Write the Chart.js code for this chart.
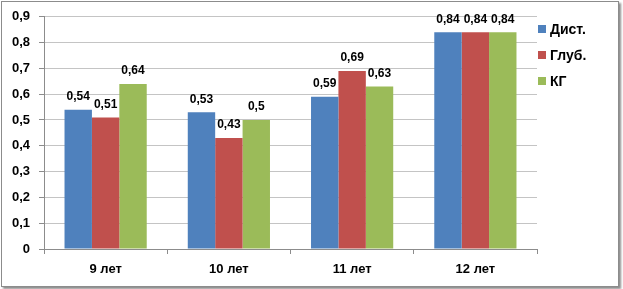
<!DOCTYPE html>
<html>
<head>
<meta charset="utf-8">
<script src="https://cdn.jsdelivr.net/npm/chart.js@4.4.1/dist/chart.umd.min.js"></script>
<style>
    html, body { margin: 0; padding: 0; background: #fff; }
    #wrap { position: relative; width: 623px; height: 289px; }
    #frame {
        position: absolute; left: 1px; top: 1px; width: 616px; height: 284px;
        border: 1px solid #8c8c8c; box-shadow: 2px 2px 2px rgba(0,0,0,0.45);
        background: #fff;
    }
    #grafico { position: absolute; left: 0; top: 0; }
</style>
</head>
<body>
<div id="wrap">
    <div id="frame"></div>
    <canvas id="grafico" width="623" height="289"></canvas>
</div>
<script>
const categorias = ['9 лет', '10 лет', '11 лет', '12 лет'];
const series = ['Дист.', 'Глуб.', 'КГ'];
const dist = [0.54, 0.53, 0.59, 0.84];
const glub = [0.51, 0.43, 0.69, 0.84];
const kg = [0.64, 0.5, 0.63, 0.84];
const colores = ['#4F81BD', '#C0504D', '#9BBB59'];
const yMax = 0.9;
const yPaso = 0.1;

const fuente = '"Liberation Sans", Arial, sans-serif';

function formato(v) {
    if (Math.abs(v) < 1e-9) return '0';
    return String(Math.round(v * 100) / 100).replace('.', ',');
}

// etiquetas sobre las barras
const etiquetas = {
    id: 'etiquetas',
    afterDatasetsDraw(chart) {
        const ctx = chart.ctx;
        ctx.save();
        ctx.font = 'bold 12px ' + fuente;
        ctx.fillStyle = '#000';
        ctx.textAlign = 'center';
        ctx.textBaseline = 'bottom';
        chart.data.datasets.forEach((ds, i) => {
            const meta = chart.getDatasetMeta(i);
            meta.data.forEach((bar, j) => {
                ctx.fillText(formato(ds.data[j]), bar.x, bar.y - 7);
            });
        });
        ctx.restore();
    }
};

// leyenda a la derecha
const leyenda = {
    id: 'leyenda',
    afterDraw(chart) {
        const ctx = chart.ctx;
        ctx.save();
        ctx.font = 'bold 14px ' + fuente;
        ctx.textBaseline = 'middle';
        ctx.textAlign = 'left';
        series.forEach((nombre, i) => {
            const y = 29 + i * 26;
            ctx.fillStyle = colores[i];
            ctx.fillRect(538, y - 4, 8, 8);
            ctx.fillStyle = '#000';
            ctx.fillText(nombre, 550, y + 1);
        });
        ctx.restore();
    }
};

const datos = [dist, glub, kg];

new Chart(document.getElementById('grafico').getContext('2d'), {
    type: 'bar',
    data: {
        labels: categorias,
        datasets: series.map((nombre, i) => ({
            label: nombre,
            data: datos[i],
            backgroundColor: colores[i],
            borderWidth: 0,
            categoryPercentage: 0.667,
            barPercentage: 1
        }))
    },
    options: {
        responsive: false,
        animation: false,
        events: [],
        layout: { padding: { left: 0, top: 16, right: 86, bottom: 0 } },
        plugins: {
            legend: { display: false },
            tooltip: { enabled: false }
        },
        scales: {
            x: {
                grid: {
                    display: true,
                    drawOnChartArea: false,
                    drawTicks: true,
                    tickLength: 5,
                    color: '#8c8c8c',
                    offset: true
                },
                border: { display: true, color: '#8c8c8c' },
                ticks: {
                    color: '#000',
                    font: { family: fuente, size: 13, weight: 'bold' },
                    padding: 8
                },
                afterFit(scale) { scale.height = 40; }
            },
            y: {
                min: 0,
                max: yMax,
                grid: {
                    color: '#c4c4c4',
                    tickLength: 5,
                    tickColor: '#8c8c8c'
                },
                border: { display: true, color: '#8c8c8c' },
                ticks: {
                    stepSize: yPaso,
                    color: '#000',
                    padding: 9,
                    font: { family: fuente, size: 13, weight: 'bold' },
                    callback: v => formato(v)
                },
                afterFit(scale) { scale.width = 44; }
            }
        }
    },
    plugins: [etiquetas, leyenda]
});
</script>
</body>
</html>
